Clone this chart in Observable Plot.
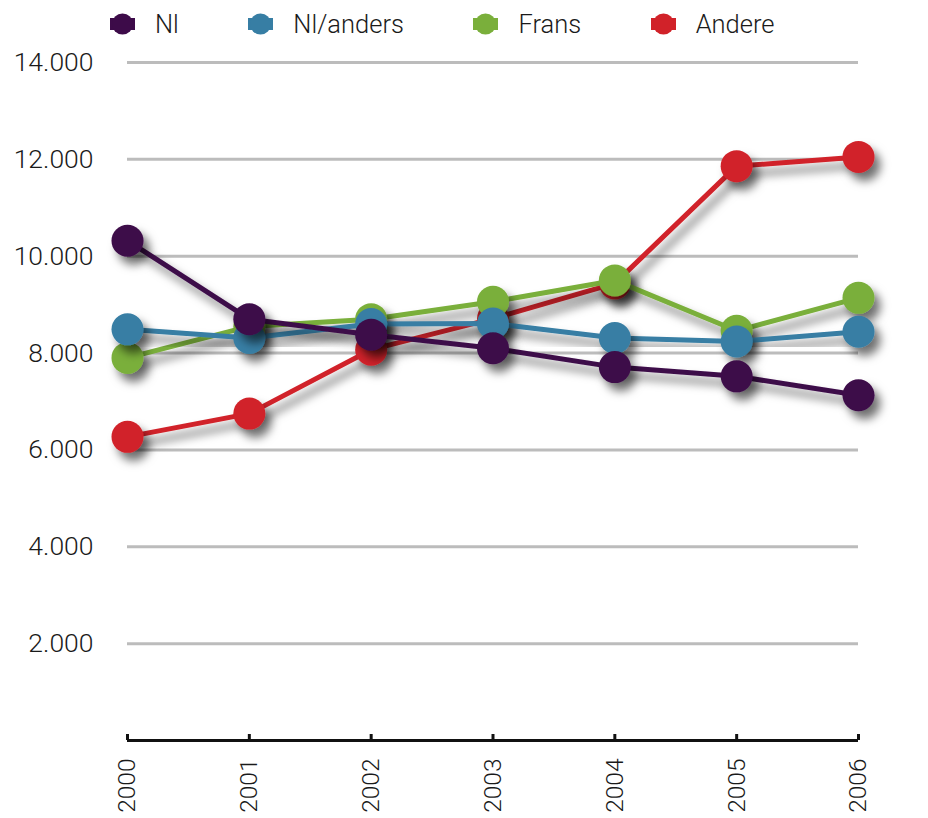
<!DOCTYPE html>
<html>
<head>
<meta charset="utf-8">
<script src="https://cdn.jsdelivr.net/npm/d3@7"></script>
<script src="https://cdn.jsdelivr.net/npm/@observablehq/plot@0.6"></script>
<style>
  html, body { margin: 0; padding: 0; background: #fff; }
  body { width: 928px; height: 818px; overflow: hidden; font-family: Roboto, "Liberation Sans", Helvetica, Arial, sans-serif; font-weight: 300; color: #1a1a1a; }
  #legend { height: 46px; display: flex; align-items: center; padding-left: 110px; gap: 69.5px; box-sizing: border-box; padding-top: 2px; }
  .item { display: flex; align-items: center; gap: 20px; font-size: 25.5px; }
  .item svg { display: block; }
  #chart svg text { font-weight: 300; }
</style>
</head>
<body>
<div id="legend"></div>
<div id="chart"></div>
<script>
const years = [2000, 2001, 2002, 2003, 2004, 2005, 2006];
const seriesNames = ["Nl", "Nl/anders", "Frans", "Andere"];
const seriesColors = ["#3d0b49", "#377ea4", "#7aaf3b", "#d12229"];
const nl       = [10320, 8700, 8380, 8100, 7710, 7520, 7130];
const nlAnders = [8490, 8310, 8600, 8610, 8310, 8240, 8440];
const frans    = [7900, 8550, 8700, 9060, 9500, 8460, 9140];
const andere   = [6270, 6750, 8070, 8710, 9440, 11860, 12050];
const yTicks = [2000, 4000, 6000, 8000, 10000, 12000, 14000];

const values = [nl, nlAnders, frans, andere];
const rows = [];
seriesNames.forEach((s, i) => years.forEach((y, j) => rows.push({series: s, year: y, value: values[i][j]})));

// legend
const legend = d3.select("#legend");
seriesNames.forEach((s, i) => {
  const it = legend.append("div").attr("class", "item");
  const sv = it.append("svg").attr("width", 25).attr("height", 22);
  sv.append("line").attr("x1", 0).attr("x2", 25).attr("y1", 11).attr("y2", 11)
    .attr("stroke", seriesColors[i]).attr("stroke-width", 12);
  sv.append("circle").attr("cx", 12.5).attr("cy", 11).attr("r", 10.5).attr("fill", seriesColors[i]);
  it.append("span").text(s);
});

const fmt = d => d3.format(",")(d).replace(/,/g, ".");
const drawOrder = ["Andere", "Frans", "Nl/anders", "Nl"];
const seriesMarks = drawOrder.flatMap(s => {
  const c = seriesColors[seriesNames.indexOf(s)];
  const d = rows.filter(r => r.series === s);
  return [
    Plot.line(d, {x: "year", y: "value", stroke: c, strokeWidth: 5}),
    Plot.dot(d, {x: "year", y: "value", r: 16, fill: c})
  ];
});

const chart = Plot.plot({
  width: 928,
  height: 772,
  marginLeft: 127,
  marginRight: 70,
  marginTop: 16,
  marginBottom: 78,
  style: {fontFamily: "Roboto, 'Liberation Sans', Helvetica, Arial, sans-serif", fontSize: "24px", color: "#1a1a1a", background: "transparent"},
  x: {domain: [2000, 2006]},
  y: {domain: [0, 14000]},
  marks: [
    Plot.gridY(yTicks, {stroke: "#bcbcbc", strokeOpacity: 1, strokeWidth: 3}),
    Plot.axisY(yTicks, {tickSize: 0, tickPadding: 34, tickFormat: fmt, fontSize: 26.5, label: null}),
    Plot.ruleY([0], {stroke: "#111", strokeWidth: 3}),
    Plot.ruleX(years, {x: d => d, y1: d => 0, y2: d => 0, insetTop: -6, stroke: "#111", strokeWidth: 3}),
    Plot.axisX(years, {tickSize: 0, tickRotate: -90, tickPadding: 18, tickFormat: d => String(d), fontSize: 24.5, label: null}),
    ...seriesMarks
  ]
});

const svg = d3.select(chart);
const defs = svg.insert("defs", ":first-child");
const f = defs.append("filter").attr("id", "drop").attr("x", "-20%").attr("y", "-20%").attr("width", "150%").attr("height", "150%");
f.append("feDropShadow").attr("dx", 6).attr("dy", 8).attr("stdDeviation", 5)
  .attr("flood-color", "#000").attr("flood-opacity", 0.55);
svg.selectAll('g[aria-label="line"], g[aria-label="dot"]').attr("filter", "url(#drop)");

document.getElementById("chart").appendChild(chart);
</script>
</body>
</html>
